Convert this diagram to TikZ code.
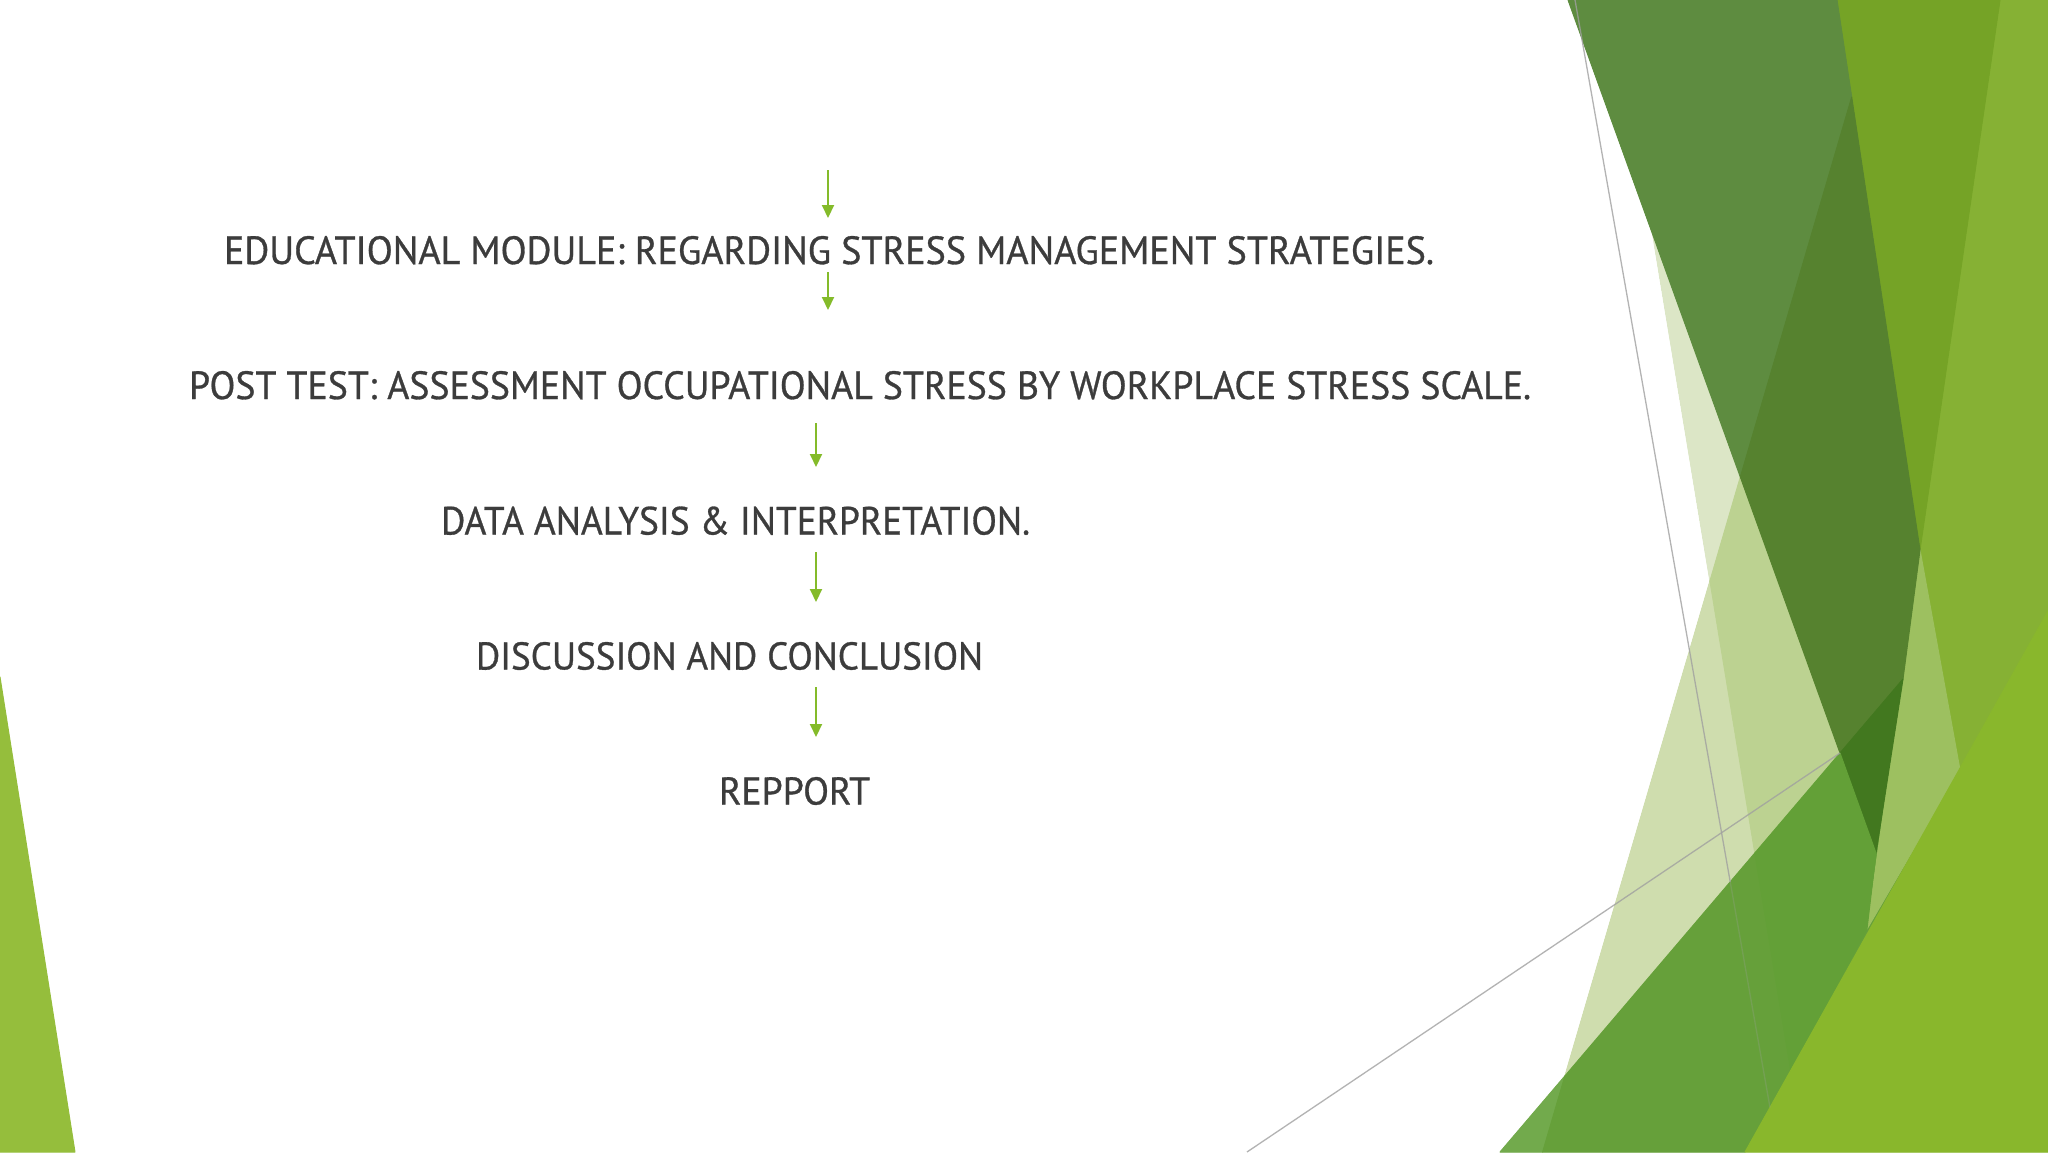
\documentclass[tikz,border=0pt]{standalone}
\usepackage{fontspec}
\setmainfont{PT Sans}[FakeBold=0.8]
\usepackage{graphicx}
\usetikzlibrary{arrows.meta}
\definecolor{txt}{HTML}{3C3C3C}
\definecolor{arr}{HTML}{84BB2A}
\definecolor{leftg}{HTML}{95BE3C}
\definecolor{yz}{HTML}{86B134}
\definecolor{zonly}{HTML}{75A326}
\definecolor{yonly}{HTML}{9DC060}
\definecolor{pone}{HTML}{DCE6C6}
\definecolor{ptwo}{HTML}{CFDDAE}
\definecolor{pboth}{HTML}{BCD291}
\definecolor{xup}{HTML}{5E8C40}
\definecolor{xlow}{HTML}{56822F}
\definecolor{deep}{HTML}{42781F}
\definecolor{malone}{HTML}{72AA4C}
\definecolor{mptwo}{HTML}{66A03A}
\definecolor{mpboth}{HTML}{63A037}
\definecolor{lime}{HTML}{89B72C}
\definecolor{gline}{HTML}{A0A0A0}
\begin{document}
\begin{tikzpicture}[x=1pt,y=-1pt,
  lbl/.style={anchor=base west, inner sep=0pt, outer sep=0pt, text=txt},
  flowarrow/.style={draw=arr, line width=2pt, -{Triangle[width=12pt,length=13pt]}},
  facet/.style={fill=#1, draw=#1, line width=1pt, line join=round},
  grayline/.style={draw=gline, line width=1.3pt}]
\useasboundingbox (0,0) rectangle (2048,1152);
\fill[white] (0,0) rectangle (2048,1152);

% left facet
\path[facet=leftg] (0,677) -- (75,1152) -- (0,1152) -- cycle;

% right facets: underlay, then regions
\fill[mptwo] (1568,0) -- (2048,0) -- (2048,1152) -- (1500,1152) -- (1564.9,1075.9)
  -- (1709.9,581) -- (1652.7,234.7) -- cycle;
\path[facet=yz] (2000,0) -- (2048,0) -- (2048,611) -- (1960,770) -- (1920,550) -- cycle;
\path[facet=zonly] (1837,0) -- (2000,0) -- (1920,550) -- cycle;
\path[facet=yonly] (1920,550) -- (1960,770) -- (1867,929) -- cycle;
\path[facet=pone] (1652.7,234.7) -- (1740.3,477) -- (1709.9,581) -- cycle;
\path[facet=ptwo] (1709.9,581) -- (1754.8,853) -- (1564.9,1075.9) -- cycle;
\path[facet=pboth] (1740.3,477) -- (1840,753) -- (1754.8,853) -- (1709.9,581) -- cycle;
\path[facet=xup] (1568,0) -- (1837,0) -- (1851.7,97) -- (1740.3,477) -- cycle;
\path[facet=xlow] (1851.7,97) -- (1920,550) -- (1903,679) -- (1840,753) -- (1740.3,477) -- cycle;
\path[facet=deep] (1840,753) -- (1903,679) -- (1876,853) -- cycle;
\path[facet=malone] (1500,1152) -- (1564.9,1075.9) -- (1542.6,1152) -- cycle;
\path[facet=mptwo] (1564.9,1075.9) -- (1754.8,853) -- (1790.7,1070.6) -- (1745,1152) -- (1542.6,1152) -- cycle;
\path[facet=mpboth] (1754.8,853) -- (1840,753) -- (1876,853) -- (1867,929) -- (1790.7,1070.6) -- cycle;
\path[facet=lime] (2048,611) -- (2048,1152) -- (1745,1152) -- cycle;

% thin grey lines
\coordinate (g1a) at (1575,0);
\coordinate (g1m) at (1730.2,881.8);
\coordinate (g1b) at (1770,1107.6);
\coordinate (g2a) at (1247,1152);
\coordinate (g2b) at (1840,753);
\draw[grayline, draw opacity=0.8] (g1a) -- (g1m);
\draw[grayline, draw opacity=0.25] (g1m) -- (g1b);
\draw[grayline, draw opacity=0.8] (g2a) -- (g2b);

% texts
\node[lbl] (t1) at (224,264) {\resizebox{1210pt}{28pt}{\fontsize{40pt}{48pt}\selectfont EDUCATIONAL MODULE: REGARDING STRESS MANAGEMENT STRATEGIES.}};
\node[lbl] (t2) at (189,399) {\resizebox{1342pt}{28pt}{\fontsize{40pt}{48pt}\selectfont POST TEST: ASSESSMENT OCCUPATIONAL STRESS BY WORKPLACE STRESS SCALE.}};
\node[lbl] (t3) at (441,534.5) {\resizebox{589pt}{28pt}{\fontsize{40pt}{48pt}\selectfont DATA ANALYSIS \& INTERPRETATION.}};
\node[lbl] (t4) at (476,669.5) {\resizebox{507pt}{27.5pt}{\fontsize{40pt}{48pt}\selectfont DISCUSSION AND CONCLUSION}};
\node[lbl] (t5) at (719,804.5) {\resizebox{151pt}{27.5pt}{\fontsize{40pt}{48pt}\selectfont REPPORT}};

% arrows
\coordinate (a1s) at (828,170);
\coordinate (a1e) at (828,218);
\coordinate (a2s) at (828,272);
\coordinate (a2e) at (828,310);
\coordinate (a3s) at (816,423);
\coordinate (a3e) at (816,467);
\coordinate (a4s) at (816,552);
\coordinate (a4e) at (816,602);
\coordinate (a5s) at (816,687);
\coordinate (a5e) at (816,737);
\draw[flowarrow] (a1s) -- (a1e);
\draw[flowarrow] (a2s) -- (a2e);
\draw[flowarrow] (a3s) -- (a3e);
\draw[flowarrow] (a4s) -- (a4e);
\draw[flowarrow] (a5s) -- (a5e);
\end{tikzpicture}
\end{document}
